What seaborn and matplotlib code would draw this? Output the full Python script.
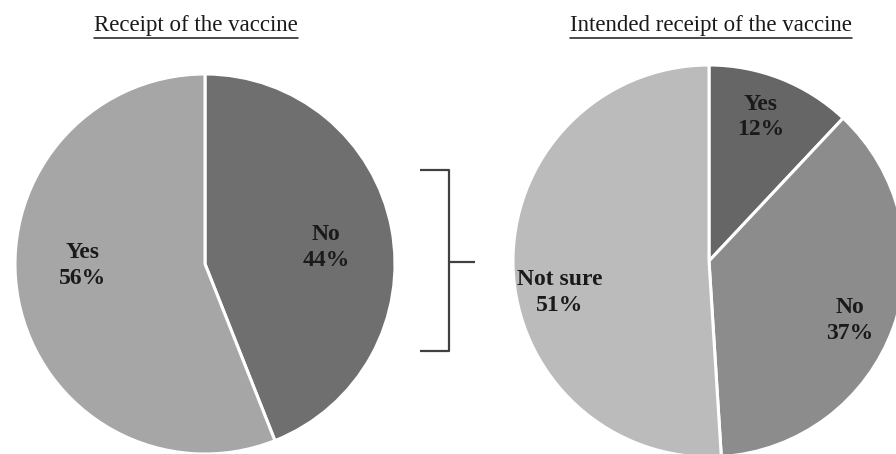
import matplotlib
matplotlib.use("Agg")
import matplotlib.pyplot as plt
from matplotlib.lines import Line2D
import numpy as np
import seaborn as sns

sns.set_theme(style="white")
plt.rcParams["font.family"] = ["Liberation Serif", "DejaVu Serif"]

# Survey responses
receipt_labels = ["No", "Yes"]
receipt_values = [44, 56]
receipt_colors = ["#6f6f6f", "#a6a6a6"]

intent_labels = ["Yes", "No", "Not sure"]
intent_values = [12, 37, 51]
intent_colors = ["#666666", "#8c8c8c", "#bbbbbb"]

titles = ["Receipt of the vaccine", "Intended receipt of the vaccine"]

W, H = 896, 454
fig = plt.figure(figsize=(W / 100, H / 100), dpi=100)
fig.patch.set_facecolor("white")


def px_axes(cx, cy, r):
    """Axes whose unit circle sits at pixel centre (cx, cy) with radius r."""
    return fig.add_axes([(cx - r) / W, (H - cy - r) / H, 2 * r / W, 2 * r / H])


def draw_pie(ax, values, labels, colors, label_r, label_shift):
    wedges, _ = ax.pie(values, colors=colors, startangle=90, counterclock=False,
                       radius=1.0,
                       wedgeprops=dict(edgecolor="white", linewidth=2.2))
    for w, lab, v, sh in zip(wedges, labels, values, label_shift):
        mid = np.deg2rad((w.theta1 + w.theta2) / 2 + sh)
        ax.text(label_r * np.cos(mid), label_r * np.sin(mid), f"{lab}\n{v}%",
                ha="center", va="center", fontsize=17, fontweight="bold",
                color="#1a1a1a", linespacing=1.3)
    ax.set_xlim(-1.02, 1.02)
    ax.set_ylim(-1.02, 1.02)
    ax.set_aspect("equal")
    ax.axis("off")


ax1 = px_axes(205, 264, 190 * 1.02)
draw_pie(ax1, receipt_values, receipt_labels, receipt_colors, 0.645, [-3, -10])

ax2 = px_axes(709, 261, 196 * 1.02)
draw_pie(ax2, intent_values, intent_labels, intent_colors, 0.78, [2, -3, 10])


def fig_line(xs, ys, **kw):
    fig.add_artist(Line2D([x / W for x in xs], [1 - y / H for y in ys],
                          transform=fig.transFigure, **kw))


# Titles with underline
renderer = fig.canvas.get_renderer()
for title, cx in zip(titles, [196, 711]):
    t = fig.text(cx / W, 1 - 26 / H, title, ha="center", va="center",
                 fontsize=16.5, color="#1a1a1a")
    bb = t.get_window_extent(renderer=renderer)
    fig_line([bb.x0, bb.x1], [38, 38], color="#1a1a1a", lw=1.1)

# Bracket linking the two charts
bk = dict(color="#404040", lw=1.6, solid_capstyle="butt")
fig_line([420, 449, 449, 420], [170, 170, 351, 351], **bk)
fig_line([449, 475], [262, 262], **bk)

fig.savefig("out.png", dpi=100, facecolor="white")
